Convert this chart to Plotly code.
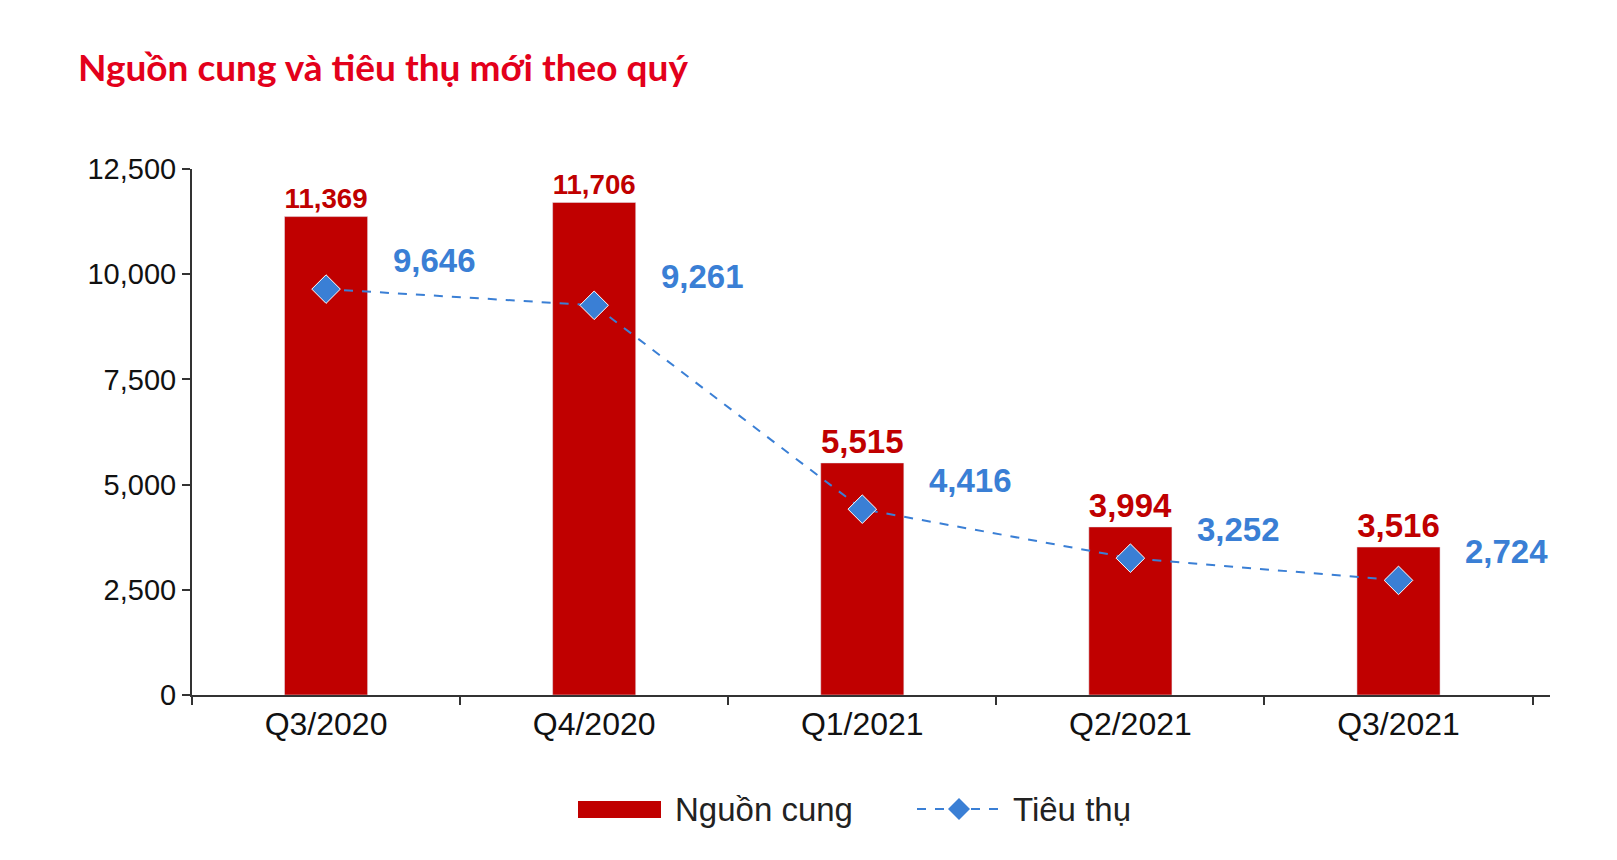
import plotly.graph_objects as go

quarters = ["Q3/2020", "Q4/2020", "Q1/2021", "Q2/2021", "Q3/2021"]
supply = [11369, 11706, 5515, 3994, 3516]
absorption = [9646, 9261, 4416, 3252, 2724]

bar_red = "#C00000"
line_blue = "#3A7FD5"
font = "Liberation Sans, Arial"

L, R, T, B = 184, 75, 161, 173
W, H = 1617, 860
pw, ph = W - L - R, H - T - B


def px(x):
    return (x - L) / pw


def py(y):
    return (H - B - y) / ph


fig = go.Figure()
fig.add_trace(go.Bar(
    x=quarters, y=supply, name="Nguồn cung", marker_color=bar_red, width=0.31,
    text=[f"{v:,}" for v in supply], textposition="outside", texttemplate="<b>%{text}</b>",
    textfont=dict(family=font, size=33, color=bar_red), cliponaxis=False,
))
fig.add_trace(go.Scatter(
    x=quarters, y=absorption, name="Tiêu thụ", mode="lines+markers",
    line=dict(color=line_blue, width=2, dash="dash"),
    marker=dict(symbol="diamond", size=22, color=line_blue, line=dict(color="white", width=1)),
))
for q, v in zip(quarters, absorption):
    fig.add_annotation(x=q, y=v, text=f"<b>{v:,}</b>", showarrow=False,
                       xshift=108, yshift=29,
                       font=dict(family=font, size=33, color=line_blue))

# custom legend
fig.add_shape(type="rect", xref="paper", yref="paper", x0=px(570), x1=px(653),
              y0=py(810), y1=py(793), fillcolor=bar_red, line_width=0)
fig.add_shape(type="line", xref="paper", yref="paper", x0=px(909), x1=px(995),
              y0=py(801), y1=py(801), line=dict(color=line_blue, width=2, dash="dash"))
fig.add_shape(type="path", xref="paper", yref="paper",
              path=f"M {px(940)},{py(801)} L {px(951)},{py(790)} L {px(962)},{py(801)} "
                   f"L {px(951)},{py(812)} Z",
              fillcolor=line_blue, line_width=0)
for x0, label in [(665, "Nguồn cung"), (1003, "Tiêu thụ")]:
    fig.add_annotation(xref="paper", yref="paper", x=px(x0), y=py(801), xanchor="left",
                       yanchor="middle", text=label, showarrow=False,
                       font=dict(family=font, size=33, color="#222"))

fig.update_layout(
    width=W, height=H, plot_bgcolor="white", paper_bgcolor="white",
    margin=dict(l=L, r=R, t=T, b=B),
    title=dict(text="<b>Nguồn cung và tiêu thụ mới theo quý</b>", x=70 / W, xanchor="left",
               y=1 - 60 / H, yanchor="middle",
               font=dict(family="Lato", size=37, color="#E3001B")),
    showlegend=False,
)
fig.update_xaxes(type="category", tickson="boundaries", ticks="outside", ticklen=8,
                 showline=True, linecolor="#333", linewidth=2, tickcolor="#333", tickwidth=2,
                 tickfont=dict(family=font, size=32, color="#111"), showgrid=False)
fig.update_yaxes(range=[0, 12500], dtick=2500, tickformat=",", ticks="outside", ticklen=8,
                 showline=True, linecolor="#333", linewidth=2, tickcolor="#333", tickwidth=2,
                 tickfont=dict(family=font, size=29, color="#111"), showgrid=False, zeroline=False)

fig.write_html("out.html")
